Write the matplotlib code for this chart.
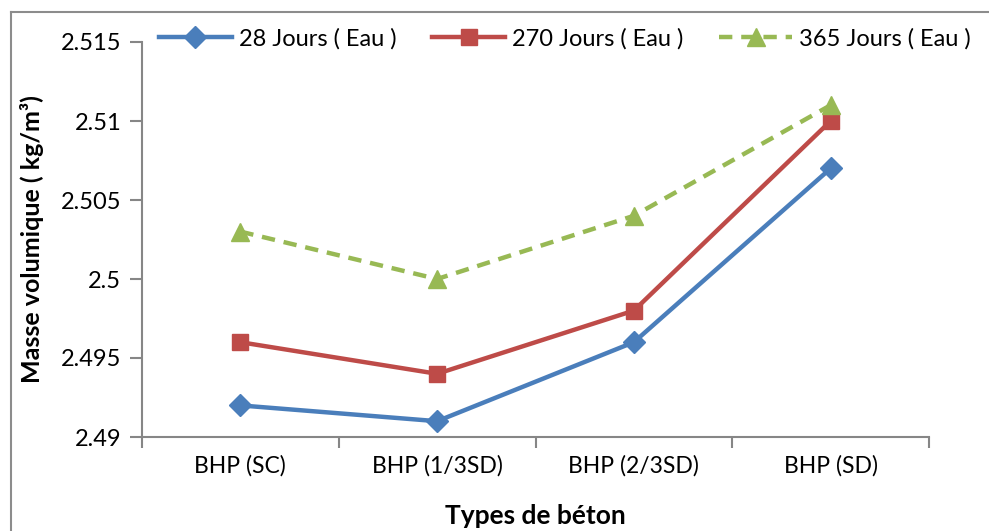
import matplotlib
matplotlib.use("Agg")
import matplotlib.pyplot as plt
from matplotlib.lines import Line2D

plt.rcParams['font.family'] = ['Lato', 'DejaVu Sans']

categories = ["BHP (SC)", "BHP (1/3SD)", "BHP (2/3SD)", "BHP (SD)"]
jours_28 = [2.492, 2.491, 2.496, 2.507]
jours_270 = [2.496, 2.494, 2.498, 2.510]
jours_365 = [2.503, 2.500, 2.504, 2.511]
series_labels = ["28 Jours ( Eau )", "270 Jours ( Eau )", "365 Jours ( Eau )"]
y_ticks = [2.49, 2.495, 2.5, 2.505, 2.51, 2.515]
y_tick_labels = ["2.49", "2.495", "2.5", "2.505", "2.51", "2.515"]

W, H = 989, 531
fig = plt.figure(figsize=(W / 100, H / 100), dpi=100)

# chart frame (left and top edges visible)
fig.add_artist(Line2D([11 / W, 11 / W], [0, 1 - 12 / H], transform=fig.transFigure,
                      color="#8c8c8c", lw=1.5))
fig.add_artist(Line2D([11 / W, 1], [1 - 12 / H, 1 - 12 / H], transform=fig.transFigure,
                      color="#8c8c8c", lw=1.5))

left, right, top, bottom = 142, 929, 42, 437
ax = fig.add_axes([left / W, 1 - bottom / H, (right - left) / W, (bottom - top) / H])

x = [i + 0.5 for i in range(len(categories))]
blue, red, green = "#4A7EBB", "#BE4B48", "#98B954"
l1, = ax.plot(x, jours_28, color=blue, lw=3.2, marker="D", markersize=11,
              markeredgecolor=blue, label=series_labels[0])
l2, = ax.plot(x, jours_270, color=red, lw=3.2, marker="s", markersize=12,
              markeredgecolor=red, label=series_labels[1])
l3, = ax.plot(x, jours_365, color=green, lw=3.2, ls=(0, (3, 2)), marker="^",
              markersize=13, markeredgecolor=green, label=series_labels[2])

ax.set_xlim(0, len(categories))
ax.set_ylim(2.49, 2.515)
ax.set_yticks(y_ticks)
ax.set_yticklabels(y_tick_labels)
ax.set_xticks(x)
ax.set_xticklabels(categories)
ax.set_xticks(range(len(categories) + 1), minor=True)

for s in ["top", "right"]:
    ax.spines[s].set_visible(False)
for s in ["left", "bottom"]:
    ax.spines[s].set_color("#868686")
    ax.spines[s].set_linewidth(1.5)

ax.tick_params(axis="y", which="major", direction="out", length=9, width=1.5,
               color="#868686", labelsize=17, pad=6)
ax.tick_params(axis="x", which="major", length=0, labelsize=16.5, pad=13)
ax.tick_params(axis="x", which="minor", direction="out", length=8, width=1.5,
               color="#868686")

ax.set_xlabel("Types de béton", fontsize=19, fontweight="bold", labelpad=20)
ax.set_ylabel("Masse volumique ( kg/m³)", fontsize=18, fontweight="bold", labelpad=12)

fig.legend(handles=[l1, l2, l3], loc="center", bbox_to_anchor=(565 / W, 1 - 39 / H),
           ncol=3, frameon=False, fontsize=17, handlelength=3.1, columnspacing=1.5,
           handletextpad=0.3)

fig.savefig("out.png", dpi=100)
